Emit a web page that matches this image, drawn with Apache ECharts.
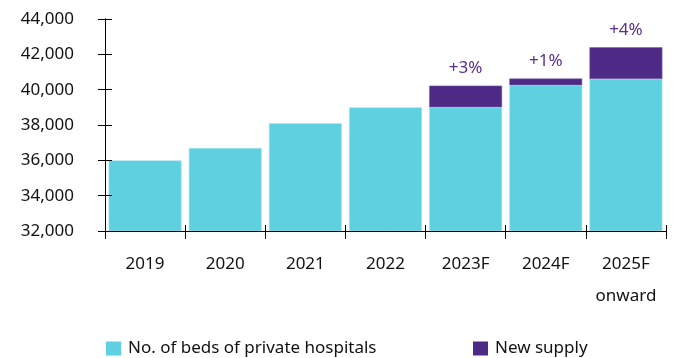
<!DOCTYPE html>
<html>
<head>
<meta charset="utf-8">
<script src="https://cdn.jsdelivr.net/npm/echarts@6/dist/echarts.min.js"></script>
<style>
  html, body { margin: 0; padding: 0; background: #fff; }
  #chart { width: 677px; height: 358px; }
</style>
</head>
<body>
<div id="chart"></div>
<script>
// Years on the horizontal axis
const categories = ['2019', '2020', '2021', '2022', '2023F', '2024F', '2025F\nonward'];
// Existing beds in private hospitals
const bedsPrivate = [36000, 36700, 38100, 39000, 39000, 40250, 40600];
// Additional beds expected from new supply
const newSupply = [null, null, null, null, 1230, 380, 1800];
// Growth labels above the new supply segments
const growthLabels = ['', '', '', '', '+3%', '+1%', '+4%'];
// Vertical axis range
const yMin = 32000;
const yMax = 44000;
const yStep = 2000;

const FONT = 'Noto Sans';
const CYAN = '#5fd0df';
const PURPLE = '#4c2a86';

const GRID = { left: 105, right: 11, top: 19, bottom: 127 };
const W = 677, H = 358;
const plotW = W - GRID.left - GRID.right;
const plotH = H - GRID.top - GRID.bottom;

const chart = echarts.init(document.getElementById('chart'), null, { renderer: 'canvas' });

const axisLineStyle = { color: '#000', width: 1 };
const legendText = { fontFamily: FONT, fontSize: 17, color: '#111', padding: [0, 0, 0, 2] };

chart.setOption({
  animation: false,
  textStyle: { fontFamily: FONT },
  grid: Object.assign({ containLabel: false }, GRID),
  legend: [
    {
      data: ['No. of beds of private hospitals'],
      left: 106, top: 340, padding: 0,
      itemWidth: 15, itemHeight: 14, itemGap: 0,
      icon: 'rect',
      itemStyle: { borderWidth: 0 },
      textStyle: legendText
    },
    {
      data: ['New supply'],
      left: 473, top: 340, padding: 0,
      itemWidth: 15, itemHeight: 14, itemGap: 0,
      icon: 'rect',
      itemStyle: { borderWidth: 0 },
      textStyle: legendText
    }
  ],
  xAxis: [
    {
      type: 'category',
      data: categories,
      position: 'bottom',
      z: 10,
      axisLine: { show: true, lineStyle: axisLineStyle },
      axisTick: { show: true, length: 8, lineStyle: axisLineStyle },
      axisLabel: {
        fontFamily: FONT, fontSize: 17, color: '#111',
        margin: 17, lineHeight: 32, interval: 0
      },
      splitLine: { show: false }
    },
    {
      // upper half of the crossing ticks on the baseline
      type: 'category',
      data: categories,
      position: 'top',
      offset: -plotH,
      z: 10,
      axisLine: { show: true, lineStyle: axisLineStyle },
      axisTick: { show: true, length: 6, lineStyle: axisLineStyle },
      axisLabel: { show: false },
      splitLine: { show: false }
    }
  ],
  yAxis: [
    {
      type: 'value',
      min: yMin, max: yMax, interval: yStep,
      position: 'left',
      z: 10,
      axisLine: { show: true, lineStyle: axisLineStyle },
      axisTick: { show: true, length: 7, lineStyle: axisLineStyle },
      axisLabel: {
        fontFamily: FONT, fontSize: 17, color: '#111', margin: 31,
        formatter: v => v.toLocaleString('en-US')
      },
      splitLine: { show: false }
    },
    {
      // right-pointing half of the crossing ticks on the value axis
      type: 'value',
      min: yMin, max: yMax, interval: yStep,
      position: 'right',
      offset: -plotW,
      z: 10,
      axisLine: { show: true, lineStyle: axisLineStyle },
      axisTick: { show: true, length: 7, lineStyle: axisLineStyle },
      axisLabel: { show: false },
      splitLine: { show: false }
    }
  ],
  series: [
    {
      name: 'No. of beds of private hospitals',
      type: 'bar',
      stack: 'beds',
      data: bedsPrivate,
      barCategoryGap: '9%',
      itemStyle: { color: CYAN, borderColor: '#a9e6ee', borderWidth: 0.6 }
    },
    {
      name: 'New supply',
      type: 'bar',
      stack: 'beds',
      data: newSupply,
      itemStyle: { color: PURPLE, borderColor: '#7d62ab', borderWidth: 0.6 },
      label: {
        show: true,
        position: 'top',
        distance: 9,
        fontFamily: FONT,
        fontSize: 17,
        color: '#5b2d8e',
        formatter: p => growthLabels[p.dataIndex]
      }
    }
  ]
});
</script>
</body>
</html>
